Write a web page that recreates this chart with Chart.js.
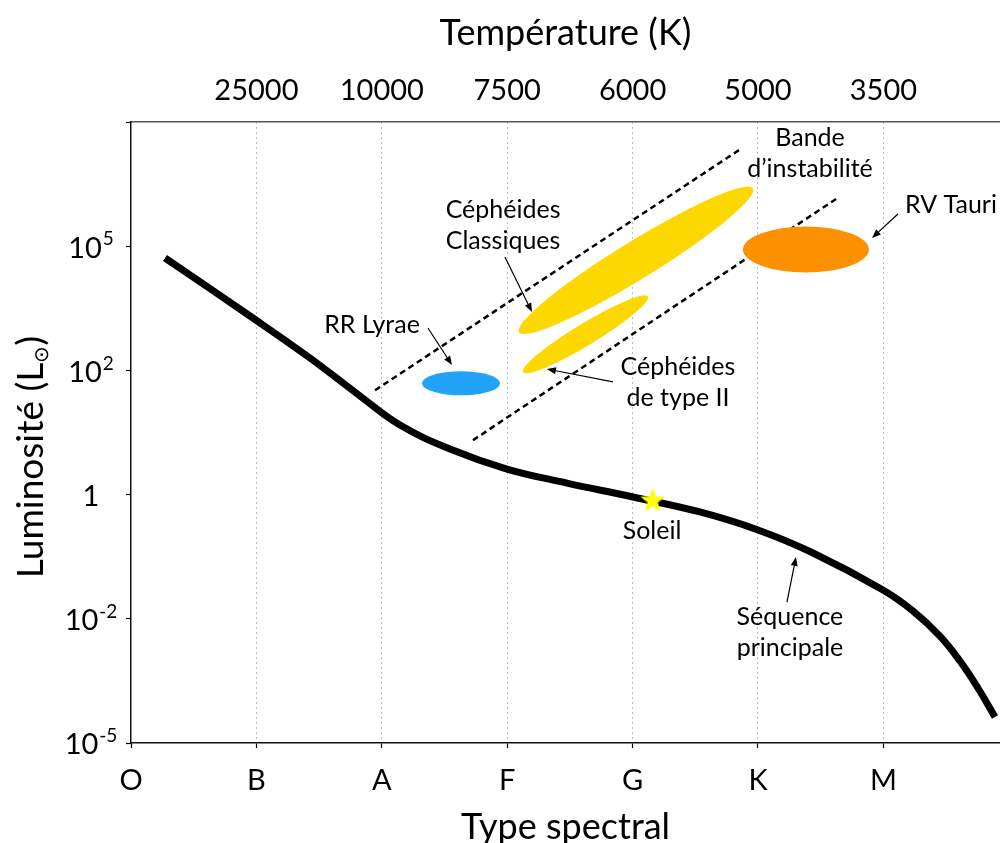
<!DOCTYPE html>
<html lang="fr">
<head>
<meta charset="utf-8">
<title>Diagramme HR – étoiles variables</title>
<script src="https://cdn.jsdelivr.net/npm/chart.js@4/dist/chart.umd.min.js"></script>
<style>
  html, body { margin: 0; padding: 0; background: #fff; }
</style>
</head>
<body>
<canvas id="hr" width="1000" height="843"></canvas>
<script>
// axes : types spectraux (bas) et températures (haut)
const spectralTypes = ['O', 'B', 'A', 'F', 'G', 'K', 'M'];
const temperatures = ['', '25000', '10000', '7500', '6000', '5000', '3500'];
// graduations de luminosité, une par pas de l'axe y
const lumBase = ['10', '10', '1', '10', '10'];
const lumExp = ['-5', '-2', '', '2', '5'];

// séquence principale (x = rang spectral, y = rang de graduation)
const seqX = [0.271, 0.949, 1.427, 1.826, 2.145, 2.544, 2.998, 3.477, 4.003, 4.537, 5.000, 5.439, 5.997, 6.236, 6.451, 6.611, 6.754, 6.890];
const seqY = [3.905, 3.438, 3.100, 2.794, 2.560, 2.367, 2.206, 2.093, 1.981, 1.860, 1.715, 1.530, 1.232, 1.063, 0.861, 0.660, 0.443, 0.209];

// le Soleil
const sunX = [4.16];
const sunY = [1.955];

// bords de la bande d'instabilité
const bandUpperX = [1.946, 4.856];
const bandUpperY = [2.840, 4.779];
const bandLowerX = [2.727, 5.630];
const bandLowerY = [2.438, 4.385];

// zones d'étoiles variables : extrémités du grand axe + demi-épaisseur (unités y)
const zoneNames = ['RR Lyrae', 'Céphéides classiques', 'Céphéides de type II', 'RV Tauri'];
const zoneX1 = [2.321, 3.094, 3.126, 4.880];
const zoneY1 = [2.896, 3.307, 2.985, 3.974];
const zoneX2 = [2.943, 4.960, 4.123, 5.885];
const zoneY2 = [2.896, 4.465, 3.596, 3.974];
const zoneHalf = [0.097, 0.153, 0.088, 0.185];
const zoneColors = ['#23a3f8', '#fdd800', '#fdd800', '#fc9100'];

// étiquettes (coordonnées du premier texte) et flèches (queue -> pointe)
const notes = [
  { lines: ['Bande', 'd\u2019instabilité'], x: 5.415, y: 4.871 },
  { lines: ['RV Tauri'], x: 6.539, y: 4.332 },
  { lines: ['Céphéides', 'Classiques'], x: 2.967, y: 4.291 },
  { lines: ['RR Lyrae'], x: 1.922, y: 3.366 },
  { lines: ['Céphéides', 'de type II'], x: 4.362, y: 3.027 },
  { lines: ['Soleil'], x: 4.155, y: 1.707 },
  { lines: ['Séquence', 'principale'], x: 5.255, y: 1.014 }
];
const arrows = [
  [2.982, 3.913, 3.198, 3.470],
  [2.368, 3.341, 2.560, 3.043],
  [3.844, 2.907, 3.317, 3.011],
  [6.116, 4.259, 5.909, 4.066],
  [5.231, 1.135, 5.303, 1.498]
];

const FONT = 'Lato, "Open Sans", sans-serif';

function pts(xs, ys) { return xs.map((x, i) => ({ x: x, y: ys[i] })); }

// étoile jaune pour le Soleil
function makeStar() {
  const c = document.createElement('canvas');
  c.width = 28; c.height = 28;
  const g = c.getContext('2d');
  g.beginPath();
  for (let i = 0; i < 10; i++) {
    const r = i % 2 ? 5.4 : 13;
    const a = -Math.PI / 2 + i * Math.PI / 5;
    g.lineTo(14 + r * Math.cos(a), 14.5 + r * Math.sin(a));
  }
  g.closePath();
  g.fillStyle = '#ffff00';
  g.fill();
  return c;
}

function drawArrow(ctx, x1, y1, x2, y2) {
  const ang = Math.atan2(y2 - y1, x2 - x1);
  const L = 9, W = 3.5;
  const bx = x2 - L * Math.cos(ang), by = y2 - L * Math.sin(ang);
  ctx.beginPath();
  ctx.moveTo(x1, y1);
  ctx.lineTo(bx, by);
  ctx.stroke();
  ctx.beginPath();
  ctx.moveTo(x2, y2);
  ctx.lineTo(bx + W * Math.sin(ang), by - W * Math.cos(ang));
  ctx.lineTo(bx - W * Math.sin(ang), by + W * Math.cos(ang));
  ctx.closePath();
  ctx.fill();
}

// pas de marge latérale réservée aux étiquettes des axes horizontaux
function fitX(h) {
  return s => { s.height = h; s.paddingLeft = 0; s.paddingRight = 0; };
}

// zones, étiquettes, flèches, graduations et titre de l'axe des luminosités
const decorPlugin = {
  id: 'decor',
  afterDatasetsDraw(chart) {
    const ctx = chart.ctx;
    const xs = chart.scales.x, ys = chart.scales.y;
    const unitY = ys.getPixelForValue(0) - ys.getPixelForValue(1);
    ctx.save();

    zoneNames.forEach((name, i) => {
      const px1 = xs.getPixelForValue(zoneX1[i]), py1 = ys.getPixelForValue(zoneY1[i]);
      const px2 = xs.getPixelForValue(zoneX2[i]), py2 = ys.getPixelForValue(zoneY2[i]);
      const a = Math.hypot(px2 - px1, py2 - py1) / 2;
      const ang = Math.atan2(py2 - py1, px2 - px1);
      ctx.beginPath();
      ctx.ellipse((px1 + px2) / 2, (py1 + py2) / 2, a, zoneHalf[i] * unitY, ang, 0, Math.PI * 2);
      ctx.fillStyle = zoneColors[i];
      ctx.fill();
    });

    ctx.fillStyle = '#000';
    ctx.strokeStyle = '#000';
    ctx.lineWidth = 1.2;
    arrows.forEach(a => {
      drawArrow(ctx, xs.getPixelForValue(a[0]), ys.getPixelForValue(a[1]),
        xs.getPixelForValue(a[2]), ys.getPixelForValue(a[3]));
    });

    ctx.font = '25px ' + FONT;
    ctx.textAlign = 'center';
    ctx.textBaseline = 'middle';
    notes.forEach(n => {
      const px = xs.getPixelForValue(n.x), py = ys.getPixelForValue(n.y);
      n.lines.forEach((t, k) => ctx.fillText(t, px, py + k * 31));
    });
    ctx.restore();
  },
  afterDraw(chart) {
    const ctx = chart.ctx;
    const ys = chart.scales.y;
    ctx.save();
    ctx.fillStyle = '#000';

    // 10 puissance n, centré à gauche de l'axe
    const cx = 91;
    ctx.textBaseline = 'middle';
    ctx.textAlign = 'left';
    lumBase.forEach((b, i) => {
      const py = ys.getPixelForValue(i) + 2;
      ctx.font = '29px ' + FONT;
      const wb = ctx.measureText(b).width;
      ctx.font = '19px ' + FONT;
      const we = lumExp[i] ? ctx.measureText(lumExp[i]).width + 1 : 0;
      const x0 = cx - (wb + we) / 2;
      ctx.font = '29px ' + FONT;
      ctx.fillText(b, x0, py);
      if (lumExp[i]) {
        ctx.font = '19px ' + FONT;
        ctx.fillText(lumExp[i], x0 + wb + 1, py - 9);
      }
    });

    // titre vertical avec le symbole solaire en indice
    const parts = [['Luminosité (L', 37, 0], ['\u2299', 20, 5], [')', 37, 0]];
    let total = 0;
    parts.forEach(p => { ctx.font = p[1] + 'px ' + FONT; total += ctx.measureText(p[0]).width; });
    ctx.translate(43, 457);
    ctx.rotate(-Math.PI / 2);
    ctx.textBaseline = 'alphabetic';
    let x = -total / 2;
    parts.forEach(p => {
      ctx.font = p[1] + 'px ' + FONT;
      ctx.fillText(p[0], x, p[2]);
      x += ctx.measureText(p[0]).width;
    });
    ctx.restore();
  }
};

const ctx = document.getElementById('hr').getContext('2d');
new Chart(ctx, {
  type: 'scatter',
  data: {
    datasets: [
      {
        label: 'Soleil',
        data: pts(sunX, sunY),
        pointStyle: makeStar(),
        pointRadius: 13,
        showLine: false
      },
      {
        label: 'Séquence principale',
        data: pts(seqX, seqY),
        showLine: true,
        borderColor: '#000',
        borderWidth: 7,
        tension: 0.4,
        pointRadius: 0,
        fill: false
      },
      {
        label: 'Bande d\u2019instabilité (haut)',
        data: pts(bandUpperX, bandUpperY),
        showLine: true,
        borderColor: '#000',
        borderWidth: 2.5,
        borderDash: [6, 4],
        pointRadius: 0
      },
      {
        label: 'Bande d\u2019instabilité (bas)',
        data: pts(bandLowerX, bandLowerY),
        showLine: true,
        borderColor: '#000',
        borderWidth: 2.5,
        borderDash: [6, 4],
        pointRadius: 0
      }
    ]
  },
  options: {
    responsive: false,
    animation: false,
    events: [],
    layout: { padding: 0, autoPadding: false },
    plugins: { legend: { display: false }, tooltip: { enabled: false } },
    scales: {
      x: {
        type: 'linear',
        position: 'bottom',
        min: 0,
        max: 6.93,
        afterFit: fitX(100),
        ticks: {
          stepSize: 1,
          padding: 15,
          color: '#000',
          font: { family: FONT, size: 29 },
          callback: v => spectralTypes[v] || ''
        },
        grid: {
          color: c => (c.index === 0 || c.tick.value > 6) ? 'rgba(0,0,0,0)' : '#bdbdbd',
          lineWidth: 1,
          drawTicks: true,
          tickLength: 5,
          tickColor: c => c.tick.value > 6 ? 'rgba(0,0,0,0)' : '#000',
          tickWidth: 1.2
        },
        border: { display: true, color: '#111', width: 1.5, dash: [2, 3] },
        title: {
          display: true,
          text: 'Type spectral',
          color: '#000',
          font: { family: FONT, size: 36, lineHeight: 1 },
          padding: { top: 0, bottom: -2 }
        }
      },
      x2: {
        type: 'linear',
        position: 'top',
        min: 0,
        max: 6.93,
        afterFit: fitX(122),
        ticks: {
          stepSize: 1,
          padding: 14,
          color: '#000',
          font: { family: FONT, size: 29 },
          callback: v => temperatures[v] || ''
        },
        grid: { display: false, drawTicks: false },
        border: { display: true, color: '#555', width: 1.5 },
        title: {
          display: true,
          text: 'Température (K)',
          color: '#000',
          font: { family: FONT, size: 36, lineHeight: 1 },
          padding: { top: 15, bottom: 0 }
        }
      },
      y: {
        type: 'linear',
        position: 'left',
        min: 0,
        max: 5,
        afterFit: s => { s.width = 131; },
        ticks: { stepSize: 1, display: false },
        grid: {
          drawOnChartArea: false,
          drawTicks: true,
          tickLength: 5,
          color: '#000',
          tickWidth: 1.2
        },
        border: { display: true, color: '#111', width: 1.5 },
        title: { display: false }
      }
    }
  },
  plugins: [decorPlugin]
});
</script>
</body>
</html>
